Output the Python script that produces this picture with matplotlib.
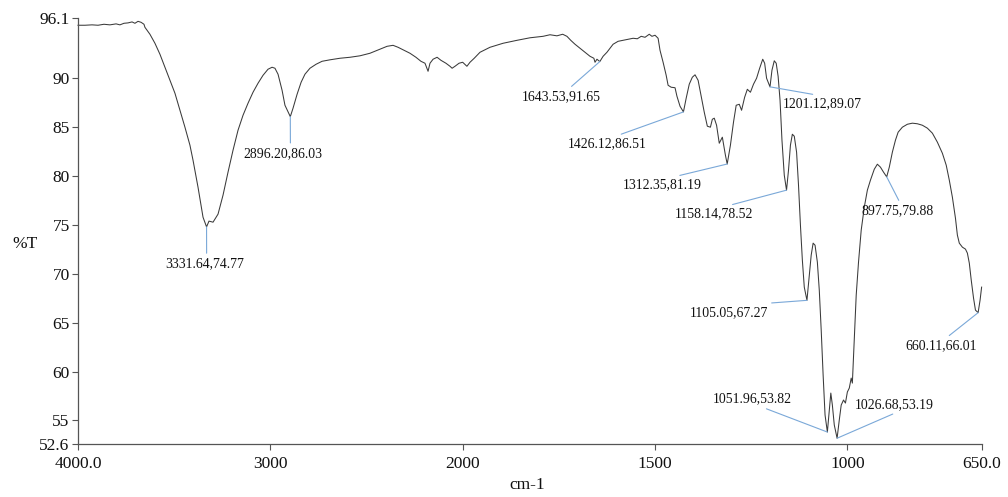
import numpy as np
import matplotlib
matplotlib.use("Agg")
import matplotlib.pyplot as plt
from matplotlib.ticker import FixedLocator, FixedFormatter

plt.rcParams["font.family"] = ["Liberation Serif", "DejaVu Serif"]

# FT-IR spectrum: wavenumber (cm-1) and transmittance (%T)
wavenumber = [
    4000, 3964, 3927, 3896, 3865, 3834, 3802, 3782, 3761, 3740, 3719, 3704, 3688, 3672, 3657,
    3652, 3626, 3600, 3574, 3548, 3522, 3496, 3470, 3444, 3418, 3402, 3376, 3350, 3331.64,
    3319, 3298, 3272, 3246, 3220, 3194, 3168, 3142, 3116, 3090, 3064, 3038, 3012, 2991, 2976,
    2960, 2939, 2924, 2896.20,
    2882, 2861, 2840, 2820, 2794, 2762, 2731, 2690, 2638, 2586, 2534, 2482, 2430, 2393, 2362,
    2336, 2305, 2274, 2243, 2217, 2196, 2180, 2170, 2154, 2133, 2113, 2087, 2066, 2055, 2040,
    2019, 2000, 1989, 1981, 1970, 1955, 1929, 1895, 1859, 1825, 1791, 1773, 1755, 1740, 1729,
    1719, 1708, 1695, 1682, 1669, 1659, 1656, 1651, 1643.53,
    1635, 1625, 1609, 1596, 1583, 1570, 1557, 1546, 1536, 1526, 1515, 1508, 1500, 1492, 1487,
    1479, 1471, 1466, 1458, 1448, 1443, 1435, 1426.12,
    1419, 1411, 1403, 1396, 1388, 1380, 1372, 1364, 1356, 1351, 1346, 1340, 1333, 1325, 1317,
    1312.35,
    1304, 1296, 1289, 1281, 1275, 1267, 1260, 1252, 1244, 1236, 1228, 1220, 1215, 1210, 1201.12,
    1196, 1190, 1185, 1180, 1175, 1170, 1164, 1158.14,
    1153, 1148, 1143, 1138, 1132, 1127, 1122, 1117, 1112, 1105.05,
    1099, 1094, 1089, 1084, 1078, 1073, 1068, 1063, 1058, 1051.96,
    1047, 1043, 1039, 1034, 1026.68,
    1021, 1016, 1010, 1005, 1000, 995, 990, 987, 982, 977, 971, 964, 956, 948, 940, 930, 922,
    914, 906, 897.75,
    891, 883, 875, 868, 857, 844, 831, 818, 805, 792, 779, 766, 753, 743, 735, 727, 719, 714,
    709, 701, 693, 688, 683, 678, 672, 667, 660.11,
    655, 651,
]
transmittance = [
    95.36, 95.36, 95.40, 95.36, 95.46, 95.40, 95.50, 95.40, 95.56, 95.60, 95.70, 95.56, 95.76, 95.66, 95.46,
    95.15, 94.44, 93.52, 92.40, 91.07, 89.74, 88.42, 86.68, 84.95, 83.11, 81.58, 78.82, 75.76, 74.77,
    75.36, 75.25, 76.07, 78.01, 80.36, 82.60, 84.64, 86.17, 87.40, 88.52, 89.44, 90.25, 90.87, 91.07, 90.97,
    90.36, 88.72, 87.19, 86.03,
    86.89, 88.31, 89.54, 90.36, 90.97, 91.38, 91.68, 91.83, 91.99, 92.09, 92.24, 92.50, 92.91, 93.21, 93.31,
    93.11, 92.80, 92.50, 92.09, 91.68, 91.48, 90.66, 91.48, 91.89, 92.09, 91.78, 91.48, 91.17, 90.97, 91.17,
    91.48, 91.58, 91.17, 91.58, 91.99, 92.60, 93.11, 93.52, 93.82, 94.08, 94.23, 94.39, 94.28, 94.44, 94.23,
    93.82, 93.42, 93.01, 92.60, 92.19, 91.99, 91.58, 91.89, 91.65,
    92.19, 92.60, 93.42, 93.72, 93.82, 93.93, 94.03, 93.98, 94.23, 94.13, 94.44, 94.23, 94.34, 94.03, 92.80,
    91.58, 90.25, 89.23, 89.03, 88.98, 88.11, 87.09, 86.51,
    87.91, 89.34, 90.05, 90.30, 89.74, 88.11, 86.48, 85.05, 84.95, 85.76, 85.87, 85.15, 83.31, 83.93, 82.09,
    81.19,
    83.11, 85.46, 87.19, 87.29, 86.68, 88.01, 88.82, 88.52, 89.34, 89.95, 90.97, 91.89, 91.48, 89.95, 89.07,
    90.77, 91.73, 91.48, 90.15, 87.70, 83.62, 80.05, 78.52,
    80.56, 83.11, 84.23, 84.03, 82.40, 79.03, 74.95, 71.38, 68.62, 67.27,
    69.85, 71.89, 73.11, 72.90, 71.17, 68.31, 64.23, 59.64, 55.56, 53.82,
    56.07, 57.80, 56.58, 54.54, 53.19,
    55.05, 56.58, 57.09, 56.78, 57.91, 58.31, 59.33, 58.82, 63.21, 67.80, 71.17, 74.44, 76.78, 78.52, 79.54, 80.66, 81.17,
    80.87, 80.36, 79.88,
    80.87, 82.40, 83.62, 84.44, 84.95, 85.25, 85.36, 85.30, 85.15, 84.85, 84.34, 83.42, 82.29, 81.07, 79.54, 77.80, 75.66, 73.93,
    73.11, 72.70, 72.50, 72.09, 71.07, 69.34, 67.50, 66.27, 66.01,
    67.29, 68.62,
]

# Labelled peaks
peak_wn = [3331.64, 2896.20, 1643.53, 1426.12, 1312.35, 1201.12, 1158.14,
           897.75, 1105.05, 1051.96, 1026.68, 660.11]
peak_t = [74.77, 86.03, 91.65, 86.51, 81.19, 89.07, 78.52,
          79.88, 67.27, 53.82, 53.19, 66.01]

x_ticks = [4000, 3000, 2000, 1500, 1000, 650]
x_tick_labels = ["4000.0", "3000", "2000", "1500", "1000", "650.0"]
y_ticks = [52.6, 55, 60, 65, 70, 75, 80, 85, 90, 96.1]
y_tick_labels = ["52.6", "55", "60", "65", "70", "75", "80", "85", "90", "96.1"]

# label placement: text offset in pixels and where the leader leaves the text box
label_offsets = [(-1.5, -37), (-7, -37), (-38, -35), (-76, -32), (-65, -21), (52, -17),
                 (-72, -24), (10.5, -34), (-78, -12), (-75, 33), (57, 34), (-37, -33)]
label_relpos = [(0.52, 1.0), (0.59, 1.0), (0.57, 1.0), (0.56, 1.0), (0.56, 1.0), (0.6, 1.0),
                (0.58, 1.0), (0.55, 1.0), (0.55, 1.0), (0.57, 0.0), (0.58, 0.0), (0.55, 1.0)]


def fwd(x):
    # wavenumber axis: 1000 cm-1 per unit above 2000, 500 cm-1 per unit below
    x = np.asarray(x, dtype=float)
    return np.where(x >= 2000, (x - 2000) / 1000.0, (x - 2000) / 500.0)


def inv(p):
    p = np.asarray(p, dtype=float)
    return np.where(p >= 0, 2000 + 1000.0 * p, 2000 + 500.0 * p)


fig = plt.figure(figsize=(10.08, 4.97), dpi=100)
ax = fig.add_axes([78 / 1008, 53 / 497, 904 / 1008, 426 / 497])
ax.set_xscale("function", functions=(fwd, inv))
ax.set_xlim(4000, 650)
ax.set_ylim(52.6, 96.1)

ax.plot(wavenumber, transmittance, color="#3a3a3a", lw=0.75, clip_on=False)

for wn, t, off, rp in zip(peak_wn, peak_t, label_offsets, label_relpos):
    ax.annotate(f"{wn:.2f},{t:.2f}", xy=(wn, t), xytext=off,
                textcoords="offset pixels", ha="center", va="center",
                fontsize=9.9, color="#111111",
                arrowprops=dict(arrowstyle="-", color="#7aa8d8", lw=0.8,
                                relpos=rp, shrinkA=1, shrinkB=0))

for side in ("top", "right"):
    ax.spines[side].set_visible(False)
for side in ("left", "bottom"):
    ax.spines[side].set_color("#555555")
    ax.spines[side].set_linewidth(0.9)

ax.xaxis.set_major_locator(FixedLocator(x_ticks))
ax.xaxis.set_major_formatter(FixedFormatter(x_tick_labels))
ax.xaxis.set_minor_locator(FixedLocator([]))
ax.yaxis.set_major_locator(FixedLocator(y_ticks))
ax.yaxis.set_major_formatter(FixedFormatter(y_tick_labels))
ax.tick_params(axis="both", direction="out", length=4, width=0.8, color="#555555",
               labelsize=12.5, labelcolor="#111111")
ax.tick_params(axis="x", pad=5)
ax.tick_params(axis="y", pad=2)

fig.text(12 / 1008, 1 - 244 / 497, "%T", fontsize=12.5, color="#111111", va="center", ha="left")
fig.text(527 / 1008, 1 - 485 / 497, "cm-1", fontsize=12.5, color="#111111", va="center", ha="center")

fig.savefig("out.png", dpi=100, facecolor="white")
